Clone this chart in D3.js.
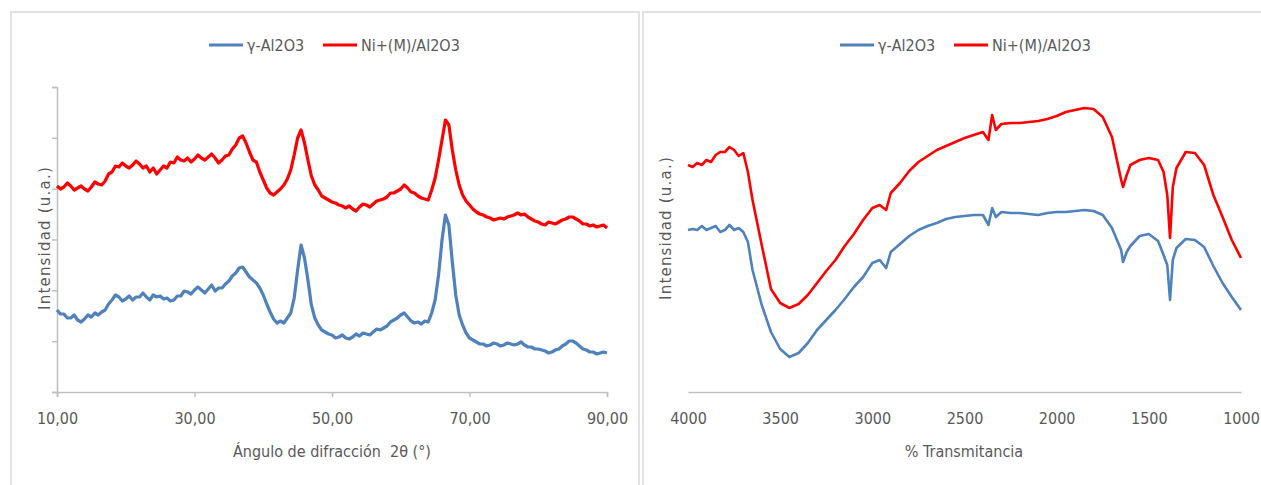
<!DOCTYPE html>
<html>
<head>
<meta charset="utf-8">
<title>DRX y FTIR</title>
<script src="https://cdn.jsdelivr.net/npm/d3@7/dist/d3.min.js"></script>
<style>
  body { margin: 0; background: #fff; }
  svg { display: block; }
  text { fill: #595959; font-family: "Liberation Sans Narrow", "DejaVu Sans Condensed", sans-serif; }
  .ytitle { font-family: "DejaVu Sans", Verdana, sans-serif; font-size: 15px; letter-spacing: 1.2px; }
  .axis path, .axis line { stroke: #bfbfbf; stroke-width: 1.5; }
  .axis text { font-size: 16px; fill: #595959; }
</style>
</head>
<body>
<div id="chart"></div>
<script>
// ---- data: XRD (0.5 deg steps from 10 to 90) ----
var xrdAngle = d3.range(10, 90.01, 0.5);
var xrdAlumina = [
  82, 78, 78, 74, 74, 77, 72, 70, 73, 77, 75, 79, 77, 80, 82, 88, 92, 97, 95, 91,
  93, 96, 92, 95, 95, 99, 95, 92, 97, 95, 96, 93, 94, 91, 92, 96, 96, 101, 100, 98,
  102, 105, 102, 99, 103, 107, 101, 104, 104, 108, 111, 116, 119, 124, 125, 120, 115, 112, 109, 104,
  97, 88, 80, 73, 69, 71, 69, 74, 79, 94, 122, 147, 134, 112, 87, 74, 67, 62, 60, 58,
  57, 54, 55, 57, 54, 53, 55, 58, 56, 59, 58, 57, 60, 63, 62, 64, 66, 70, 72, 74,
  77, 79, 75, 71, 69, 70, 68, 71, 70, 79, 92, 117, 152, 177, 167, 130, 97, 77, 67, 59,
  54, 52, 50, 48, 48, 46, 47, 49, 48, 46, 47, 49, 48, 47, 48, 50, 47, 45, 45, 43,
  43, 42, 41, 39, 40, 42, 43, 46, 48, 51, 51, 49, 46, 43, 42, 40, 40, 38, 39, 40,
  39
];
var xrdNiM = [
  206, 203, 205, 209, 206, 202, 204, 206, 203, 201, 205, 210, 208, 207, 211, 218, 220, 226, 225, 229,
  226, 224, 227, 231, 228, 224, 226, 220, 224, 218, 222, 226, 224, 230, 229, 235, 232, 231, 234, 230,
  233, 237, 234, 232, 235, 238, 234, 229, 232, 236, 237, 243, 247, 254, 256, 249, 240, 232, 230, 220,
  212, 204, 199, 197, 200, 203, 207, 213, 222, 237, 254, 262, 249, 232, 216, 207, 202, 196, 194, 192,
  190, 189, 187, 186, 184, 186, 183, 181, 185, 188, 187, 185, 188, 191, 192, 193, 195, 199, 199, 201,
  203, 207, 204, 200, 199, 196, 194, 193, 192, 202, 214, 232, 252, 272, 267, 242, 222, 207, 197, 191,
  187, 183, 180, 178, 177, 175, 174, 172, 173, 174, 173, 175, 176, 177, 179, 177, 178, 175, 173, 171,
  170, 168, 167, 170, 169, 168, 170, 172, 173, 175, 175, 173, 171, 168, 168, 166, 167, 165, 166, 167,
  164
];
var xrdTicks = [10, 30, 50, 70, 90];
var intTicks = [0, 50.83, 101.67, 152.5, 203.33, 254.17, 305];

// ---- data: FTIR ----
var wavenumber = [
  4000, 3975, 3950, 3925, 3900, 3875, 3850, 3825, 3800, 3775, 3750, 3725, 3700, 3675, 3650, 3600, 3550, 3500, 3450, 3400,
  3350, 3300, 3250, 3200, 3150, 3100, 3050, 3000, 2960, 2925, 2900, 2850, 2800, 2750, 2700, 2650, 2600, 2550, 2500, 2450,
  2400, 2370, 2350, 2330, 2300, 2250, 2200, 2150, 2100, 2050, 2000, 1950, 1900, 1850, 1800, 1750, 1700, 1650, 1640, 1620,
  1600, 1550, 1500, 1450, 1420, 1400, 1385, 1370, 1350, 1300, 1250, 1200, 1150, 1100, 1050, 1000
];
var ftirAlumina = [
  162, 163, 162, 166, 162, 164, 166, 160, 162, 167, 162, 164, 160, 150, 122, 87, 60, 43, 35, 39,
  49, 62, 72, 82, 93, 105, 115, 129, 132, 124, 140, 148, 156, 162, 166, 169, 173, 175, 176, 177,
  177, 167, 184, 175, 180, 179, 179, 178, 177, 179, 180, 180, 181, 182, 181, 177, 164, 142, 130, 140,
  146, 156, 158, 151, 137, 127, 92, 132, 144, 153, 152, 145, 126, 109, 95, 82
];
var ftirNiM = [
  227, 225, 229, 227, 232, 230, 237, 240, 240, 245, 242, 236, 239, 220, 192, 147, 103, 89, 84, 88,
  97, 109, 121, 132, 146, 158, 172, 184, 187, 182, 199, 209, 221, 230, 236, 242, 246, 250, 254, 257,
  260, 252, 277, 262, 268, 269, 269, 270, 271, 273, 276, 280, 282, 284, 283, 275, 255, 212, 205, 217,
  227, 232, 234, 232, 220, 197, 154, 205, 224, 240, 239, 227, 197, 175, 152, 134
];
var ftirTicks = [4000, 3500, 3000, 2500, 2000, 1500, 1000];

var seriesNames = ["γ-Al2O3", "Ni+(M)/Al2O3"];
var seriesColors = ["#4f81bd", "#ff0000"];

var W = 1261, H = 485;
var svg = d3.select("#chart").append("svg").attr("width", W).attr("height", H);

// panel frames
svg.append("rect").attr("x", 11).attr("y", 12).attr("width", 628).attr("height", 500)
  .attr("fill", "none").attr("stroke", "#d9d9d9").attr("stroke-width", 1.5);
svg.append("rect").attr("x", 643).attr("y", 12).attr("width", 640).attr("height", 500)
  .attr("fill", "none").attr("stroke", "#d9d9d9").attr("stroke-width", 1.5);

function legend(x0, y0) {
  var offs = [0, 114];
  var widths = [34, 34];
  seriesNames.forEach(function (name, i) {
    var lx = x0 + offs[i];
    svg.append("line").attr("x1", lx).attr("x2", lx + widths[i]).attr("y1", y0).attr("y2", y0)
      .attr("stroke", seriesColors[i]).attr("stroke-width", 3);
    svg.append("text").attr("x", lx + widths[i] + 4).attr("y", y0 + 6)
      .style("font-size", "16px").text(name);
  });
}

// ---------- left: XRD ----------
var x1 = d3.scaleLinear().domain([10, 90]).range([57, 607]);
var y1 = d3.scaleLinear().domain([0, 305]).range([392, 87]);

svg.append("g").attr("class", "axis").attr("transform", "translate(0,392)")
  .call(d3.axisBottom(x1).tickValues(xrdTicks).tickSizeOuter(0).tickSize(5).tickPadding(16)
    .tickFormat(function (d) { return d3.format(".2f")(d).replace(".", ","); }));
svg.append("g").attr("class", "axis").attr("transform", "translate(57,0)")
  .call(d3.axisLeft(y1).tickValues(intTicks).tickSizeOuter(0).tickSize(5).tickFormat(""));

var line1 = d3.line().x(function (d) { return x1(d[0]); }).y(function (d) { return y1(d[1]); });
[xrdAlumina, xrdNiM].forEach(function (vals, i) {
  svg.append("path").datum(xrdAngle.map(function (a, j) { return [a, vals[j]]; }))
    .attr("fill", "none").attr("stroke", seriesColors[i]).attr("stroke-width", 3.2)
    .attr("stroke-linejoin", "round").attr("d", line1);
});

svg.append("text").attr("x", 332).attr("y", 457).attr("text-anchor", "middle")
  .style("font-size", "16px").style("white-space", "pre").text("Ángulo de difracción  2θ (°)");
svg.append("text").attr("class", "ytitle").attr("transform", "translate(50,238) rotate(-90)")
  .attr("text-anchor", "middle").text("Intensidad (u.a.)");
legend(209, 45);

// ---------- right: FTIR ----------
var x2 = d3.scaleLinear().domain([4000, 1000]).range([688, 1241]);
var y2 = d3.scaleLinear().domain([0, 305]).range([392, 87]);

svg.append("g").attr("class", "axis").attr("transform", "translate(0,392)")
  .call(d3.axisBottom(x2).tickValues(ftirTicks).tickSizeOuter(0).tickSize(0).tickPadding(21)
    .tickFormat(d3.format("d")));

var line2 = d3.line().x(function (d) { return x2(d[0]); }).y(function (d) { return y2(d[1]); });
[ftirAlumina, ftirNiM].forEach(function (vals, i) {
  svg.append("path").datum(wavenumber.map(function (w, j) { return [w, vals[j]]; }))
    .attr("fill", "none").attr("stroke", seriesColors[i]).attr("stroke-width", 2.6)
    .attr("stroke-linejoin", "round").attr("d", line2);
});

svg.append("text").attr("x", 964).attr("y", 457).attr("text-anchor", "middle")
  .style("font-size", "16px").text("% Transmitancia");
svg.append("text").attr("class", "ytitle").attr("transform", "translate(671,228) rotate(-90)")
  .attr("text-anchor", "middle").text("Intensidad (u.a.)");
legend(840, 45);
</script>
</body>
</html>
